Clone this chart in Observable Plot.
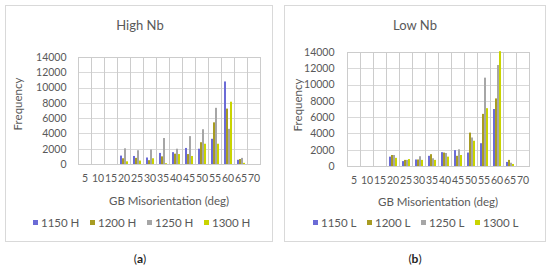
<!DOCTYPE html>
<html><head><meta charset="utf-8">
<script src="https://cdn.jsdelivr.net/npm/d3@7"></script>
<script src="https://cdn.jsdelivr.net/npm/@observablehq/plot@0.6"></script>
<style>
body{margin:0;background:#fff;}
#wrap{position:relative;width:550px;height:266px;background:#fff;font-family:Lato,sans-serif;color:#595959;overflow:hidden}
.box{position:absolute;border:1px solid #d9d9d9;box-sizing:border-box}
.t{position:absolute;transform:translate(-50%,-50%);white-space:nowrap}
.svgc{position:absolute}
.leg{position:absolute;display:flex;font-size:11.5px;white-space:nowrap}
.leg .it{display:flex;align-items:center}
.leg .sw{width:5px;height:5px;margin-right:3px}
</style></head>
<body><div id="wrap"></div>
<script>
const categories = ["5","10","15","20","25","30","35","40","45","50","55","60","65","70"];
const yTicks = [0,2000,4000,6000,8000,10000,12000,14000];
const colors = ["#6b6bd6","#a89c22","#a6a6a6","#c9d400"];

const seriesHigh = ["1150 H","1200 H","1250 H","1300 H"];
const h1150 = [0,0,0,1100,1050,850,1450,1550,2100,2000,3300,10800,550,0];
const h1200 = [0,0,0,750,800,500,1000,1350,1300,2850,5450,7250,650,0];
const h1250 = [0,0,0,2050,1800,1900,3400,2000,3650,4550,7350,4600,800,0];
const h1300 = [0,0,0,350,450,750,100,1300,1050,2650,2650,8150,150,0];

const seriesLow = ["1150 L","1200 L","1250 L","1300 L"];
const l1150 = [0,0,0,1150,600,800,1250,1700,1950,1650,2800,7000,500,0];
const l1200 = [0,0,0,1350,750,800,1450,1650,1250,4100,6400,8300,750,0];
const l1250 = [0,0,0,1350,750,1200,950,1600,2050,3500,10850,12400,400,0];
const l1300 = [0,0,0,1000,850,750,750,1150,1350,3100,7100,14100,250,0];

function rows(series, arrays){
  const out = [];
  series.forEach((s,i)=>arrays[i].forEach((v,j)=>out.push({cat:categories[j],series:s,value:v})));
  return out;
}

const wrap = document.getElementById("wrap");
function add(html){ wrap.insertAdjacentHTML("beforeend", html); }

function panel(cfg){
  add(`<div class="box" style="left:${cfg.bx}px;top:5px;width:${cfg.bw}px;height:237px"></div>`);
  add(`<div class="t" style="left:${cfg.tx}px;top:25px;font-size:13px">${cfg.title}</div>`);
  const chart = Plot.plot({
    width: cfg.w, height: cfg.h,
    marginLeft: cfg.ml, marginRight: cfg.mr, marginTop: 12, marginBottom: cfg.h - 12 - cfg.ph,
    style: {fontFamily: "Lato, sans-serif", fontSize: "10.5px", color: "#595959", background: "transparent", overflow: "visible"},
    fx: {domain: categories, padding: 0, label: null, axis: null},
    x: {domain: cfg.series, paddingInner: 0, paddingOuter: 0.45, axis: null},
    y: {domain: [0,14000], axis: null},
    color: {domain: cfg.series, range: colors},
    marks: [
      Plot.gridY(yTicks, {stroke: "#d9d9d9", strokeOpacity: 1, shapeRendering: "crispEdges"}),
      Plot.barY(categories, {fx: d => d, y1: yTicks[0], y2: yTicks[yTicks.length-1], fill: "none", stroke: "#cccccc", strokeWidth: 1, shapeRendering: "crispEdges"}),
      Plot.barY(cfg.data, {fx: "cat", x: "series", y: "value", fill: "series"}),
      Plot.axisY(yTicks, {tickSize: 0, tickPadding: cfg.tp, label: null, fill: "#595959", tickFormat: d => String(d)}),
      Plot.axisFx({anchor: "bottom", tickSize: 0, tickPadding: 10, label: null, fill: "#595959"})
    ]
  });
  const c = document.createElement("div");
  c.className = "svgc";
  c.style.left = cfg.sx + "px"; c.style.top = cfg.sy + "px";
  c.appendChild(chart);
  wrap.appendChild(c);
  add(`<div class="t" style="left:${cfg.fqx}px;top:${cfg.fqy}px;font-size:11.5px;transform:translate(-50%,-50%) rotate(-90deg)">Frequency</div>`);
  add(`<div class="t" style="left:${cfg.xtx}px;top:${cfg.xty}px;font-size:11.5px">GB Misorientation (deg)</div>`);
  add(`<div class="leg" style="left:${cfg.lx}px;top:216px">` + cfg.series.map((s,i)=>`<div class="it" style="width:${cfg.lw}px"><div class="sw" style="background:${colors[i]}"></div>${s}</div>`).join("") + `</div>`);
  add(`<div class="t" style="left:${cfg.tx}px;top:258px;font-size:12px;color:#222">(<b>${cfg.cap}</b>)</div>`);
}

panel({bx:5,bw:268,tx:140,title:"High Nb",w:267,h:150,ml:72,mr:11,ph:107,tp:12,sx:5,sy:45,
  series:seriesHigh,data:rows(seriesHigh,[h1150,h1200,h1250,h1300]),
  fqx:17,fqy:104,xtx:169,xty:200,lx:33,lw:57,cap:"a"});
panel({bx:284,bw:262,tx:415,title:"Low Nb",w:260,h:156,ml:59,mr:13,ph:114,tp:13,sx:285,sy:40,
  series:seriesLow,data:rows(seriesLow,[l1150,l1200,l1250,l1300]),
  fqx:297,fqy:105,xtx:438,xty:201,lx:313,lw:54,cap:"b"});
</script></body></html>
